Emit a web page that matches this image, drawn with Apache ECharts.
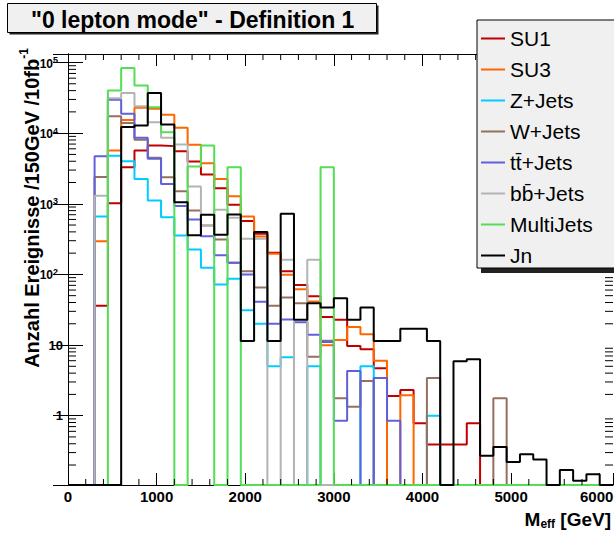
<!DOCTYPE html>
<html><head><meta charset="utf-8">
<script src="https://cdn.jsdelivr.net/npm/echarts@6/dist/echarts.min.js"></script>
<style>html,body{margin:0;padding:0;background:#fff;}#c{width:614px;height:535px;}</style>
</head><body><div id="c"></div>
<script>
// bin lower edges (GeV), 150 GeV bins
const binLow = [0,150,300,450,600,750,900,1050,1200,1350,1500,1650,1800,1950,2100,2250,2400,2550,2700,2850,
  3000,3150,3300,3450,3600,3750,3900,4050,4200,4350,4500,4650,4800,4950,5100,5250,5400,5550,5700,5850,6000];
const binEnd = 6150;

const su1 = [0,0,36,1020,3300,5680,6680,6550,5560,3970,2600,1660,965,569,377,203,111,71,49,25,
  22.8,9.7,8.7,4.7,1.9,2.3,0.78,0.39,0.39,0.39,0.78,0,0,0,0,0,0,0,0,0,0];
const su3 = [0,0,295,5690,15400,22800,22100,18200,11900,6830,3760,2250,1280,660,345,196,99,61.5,41.5,9.9,
  11.8,18,14.2,6.0,0,1.95,0,0,0,0,0,0,0,0,0,0,0,0,0,0,0];
const zjets = [0,0,660,4780,4000,2250,1110,646,355,226,124,72,87,31,20,5.0,6.7,0,5.0,0,
  0,0,5.0,0,0,0,0,1.0,0,0,0,0,0,0,0,0,0,0,0,0,0];
const wjets = [0,0,2390,17400,13900,8050,4480,2380,1510,804,494,313,146,111,65,36,47,39,6.8,11.5,
  1.76,1.34,3.1,0,0,0,0,3.4,0,0,0,0,1.76,0,0,0,0,0,0,0,0];
const ttjets = [0,0,4700,29600,18800,8590,4330,1910,929,600,346,186,146,100,41,20,23,21,14,11,
  0.85,4.3,0,3.4,0.85,0,0,0,0,0,0,0,0,0,0,0,0,0,0,0,0];
const bbjets = [0,0,1300,31300,36900,24000,14300,8590,6900,1760,494,824,635,320,320,0,161,0,161,0,
  0,0,0,0,0,0,0,0,0,0,0,0,0,0,0,0,0,0,0,0,0];
const multijets = [0,0,0,40200,83600,47300,23300,10300,0,3370,6680,0,3300,0,0,0,0,0,0,3300,
  0,0,0,0,0,0,0,0,0,0,0,0,0,0,0,0,0,0,0,0,0];
const jn = [0,0,0,0,12200,12800,36900,13300,1050,357,700,365,705,11.4,398,11.4,725,22.8,39,34,
  46,22.8,34,11.4,11.4,17,17,11.4,0,5.9,6.3,0.27,0.36,0.22,0.285,0.24,0,0.17,0.12,0.148,0];

const names = ['SU1','SU3','Z+Jets','W+Jets','tt\u0304+Jets','bb\u0304+Jets','MultiJets','Jn'];
const values = [su1, su3, zjets, wjets, ttjets, bbjets, multijets, jn];
const colors = ['#c00000','#ff6600','#00ccff','#957060','#6060dd','#b4b4b4','#55dd55','#000000'];

const xTickLabels = ['0','1000','2000','3000','4000','5000','6000'];
const yTickLabels = ['1','10','10^2','10^3','10^4','10^5'];
const xMinorTicks = [200,400,600,800,1200,1400,1600,1800,2200,2400,2600,2800,3200,3400,3600,3800,
  4200,4400,4600,4800,5200,5400,5600,5800];
const yMinorTicks = [];
for (let e = -1; e <= 4; e++) for (let m = 2; m <= 9; m++) yMinorTicks.push(m * Math.pow(10, e));

const Y_MIN = 0.1043, Y_MAX = 1.32e5;
const FONT = '"Liberation Sans", Arial, Helvetica, sans-serif';

function stepData(vals) {
  const pts = binLow.map((x, i) => [x, vals[i] > 0 ? vals[i] : Y_MIN]);
  pts.push([binEnd, pts[pts.length - 1][1]]);
  return pts;
}

const chart = echarts.init(document.getElementById('c'), null, {renderer: 'svg'});

const lineSeries = names.map((n, i) => ({
  name: n, type: 'line', step: 'end', showSymbol: false, symbol: 'none',
  data: stepData(values[i]), color: colors[i],
  lineStyle: {color: colors[i], width: 2}, itemStyle: {color: colors[i]},
  z: 2 + i * 0.01, animation: false, silent: true
}));

const tickStyle = {color: '#000', width: 1};

const option = {
  animation: false,
  backgroundColor: '#fff',
  title: {
    text: '"0 lepton mode" - Definition 1', left: 31, top: 8, padding: 0,
    textStyle: {fontSize: 23, fontWeight: 'bold', fontFamily: FONT, color: '#000', lineHeight: 23}
  },
  grid: {left: 68, top: 54, width: 545, height: 431, containLabel: false, outerBoundsMode: 'none'},
  legend: {
    data: names, orient: 'vertical', left: 477, top: 20,
    icon: 'rect', itemWidth: 24, itemHeight: 2, itemGap: 8, selectedMode: false,
    padding: [7, 40, 1, 4],
    backgroundColor: '#f0f0f0', borderColor: '#000', borderWidth: 1, borderRadius: 0,
    textStyle: {fontSize: 21, fontFamily: FONT, color: '#000', lineHeight: 23}
  },
  xAxis: [{
    type: 'value', min: 0, max: binEnd, interval: 1000, position: 'bottom',
    axisLine: {show: true, lineStyle: {color: '#000', width: 1}},
    axisTick: {show: true, inside: true, length: 12, lineStyle: tickStyle},
    splitLine: {show: false},
    axisLabel: {
      margin: 4, fontSize: 15, fontWeight: 'bold', fontFamily: FONT, color: '#000', hideOverlap: false,
      formatter: v => {
        const k = Math.round(v / 1000);
        if (Math.abs(v - k * 1000) > 1e-6 || xTickLabels[k] === undefined) return '';
        return k === xTickLabels.length - 1 ? '{r|' + xTickLabels[k] + '}' : xTickLabels[k];
      },
      rich: {r: {fontSize: 15, fontWeight: 'bold', fontFamily: FONT, color: '#000', padding: [0, 6, 0, 0]}}
    }
  }, {
    type: 'value', min: 0, max: binEnd, interval: 1000, position: 'top',
    axisLine: {show: true, lineStyle: {color: '#000', width: 1}},
    axisTick: {show: true, inside: true, length: 12, lineStyle: tickStyle},
    splitLine: {show: false}, axisLabel: {show: false}
  }],
  yAxis: [{
    type: 'log', logBase: 10, min: Y_MIN, max: Y_MAX, position: 'left',
    axisLine: {show: true, lineStyle: {color: '#000', width: 1}},
    axisTick: {show: true, inside: true, length: 15, lineStyle: tickStyle},
    splitLine: {show: false},
    axisLabel: {
      margin: 5, color: '#000', fontSize: 13, fontWeight: 'bold', fontFamily: FONT, hideOverlap: false,
      formatter: v => {
        const lg = Math.log10(v), e = Math.round(lg);
        if (Math.abs(lg - e) > 1e-6 || yTickLabels[e] === undefined) return '';
        const t = yTickLabels[e];
        if (t.indexOf('^') >= 0) { const p = t.split('^'); return '{b|' + p[0] + '}{s|' + p[1] + '}'; }
        return '{n|' + t + '}';
      },
      rich: {
        n: {fontSize: 13, fontWeight: 'bold', fontFamily: FONT, color: '#000', lineHeight: 14},
        b: {fontSize: 12, fontWeight: 'bold', fontFamily: FONT, color: '#000', lineHeight: 14, verticalAlign: 'bottom'},
        s: {fontSize: 9, fontWeight: 'bold', fontFamily: FONT, color: '#000', lineHeight: 14, verticalAlign: 'top', padding: [0, 5, 0, 0]}
      }
    }
  }, {
    type: 'log', logBase: 10, min: Y_MIN, max: Y_MAX, position: 'right',
    axisLine: {show: true, lineStyle: {color: '#000', width: 1}},
    axisTick: {show: true, inside: true, length: 15, lineStyle: tickStyle},
    splitLine: {show: false}, axisLabel: {show: false}
  }],
  series: lineSeries.concat([{
    type: 'custom', silent: true, xAxisIndex: 0, yAxisIndex: 0, clip: false, z: 3,
    data: yMinorTicks.map(v => [0, v]), encode: {x: 0, y: 1},
    renderItem: (params, api) => {
      const cs = params.coordSys;
      const y = api.coord([0, api.value(1)])[1];
      return {type: 'group', children: [
        {type: 'line', shape: {x1: cs.x, y1: y, x2: cs.x + 8, y2: y}, style: {stroke: '#000', lineWidth: 1}},
        {type: 'line', shape: {x1: cs.x + cs.width, y1: y, x2: cs.x + cs.width - 8, y2: y}, style: {stroke: '#000', lineWidth: 1}}
      ]};
    }
  }, {
    type: 'custom', silent: true, xAxisIndex: 0, yAxisIndex: 0, clip: false, z: 3,
    data: xMinorTicks.map(v => [v, 1]), encode: {x: 0, y: 1},
    renderItem: (params, api) => {
      const cs = params.coordSys;
      const x = api.coord([api.value(0), 1])[0];
      return {type: 'group', children: [
        {type: 'line', shape: {x1: x, y1: cs.y + cs.height, x2: x, y2: cs.y + cs.height - 6}, style: {stroke: '#000', lineWidth: 1}},
        {type: 'line', shape: {x1: x, y1: cs.y, x2: x, y2: cs.y + 6}, style: {stroke: '#000', lineWidth: 1}}
      ]};
    }
  }]),
  graphic: [
    {type: 'rect', z: 0, shape: {x: 9.5, y: 5.5, width: 369, height: 29}, style: {fill: '#222'}},
    {type: 'rect', z: 1, shape: {x: 7.5, y: 3.5, width: 369, height: 29}, style: {fill: '#f0f0f0', stroke: '#000', lineWidth: 1}},
    {type: 'rect', z: 3, shape: {x: 481, y: 262, width: 140, height: 11}, style: {fill: '#222'}},
    {type: 'text', z: 5, x: 29.5, y: 208, rotation: Math.PI / 2,
      style: {text: '{t|Anzahl Ereignisse /150GeV /10fb}{s|-1}',
        rich: {t: {font: 'bold 20px ' + FONT, lineHeight: 24, verticalAlign: 'bottom', fill: '#000'},
               s: {font: 'bold 12px ' + FONT, lineHeight: 24, verticalAlign: 'top', fill: '#000'}},
        align: 'center', verticalAlign: 'middle', textAlign: 'center', textVerticalAlign: 'middle', fill: '#000'}},
    {type: 'text', z: 5, x: 611, y: 519,
      style: {text: '{m|M}{e|eff}{m| [GeV]}',
        rich: {m: {font: 'bold 19px ' + FONT, lineHeight: 22, verticalAlign: 'middle', fill: '#000'},
               e: {font: 'bold 12px ' + FONT, lineHeight: 22, verticalAlign: 'bottom', fill: '#000'}},
        align: 'right', verticalAlign: 'middle', textAlign: 'right', textVerticalAlign: 'middle', fill: '#000'}}
  ]
};
chart.setOption(option);
</script></body></html>
